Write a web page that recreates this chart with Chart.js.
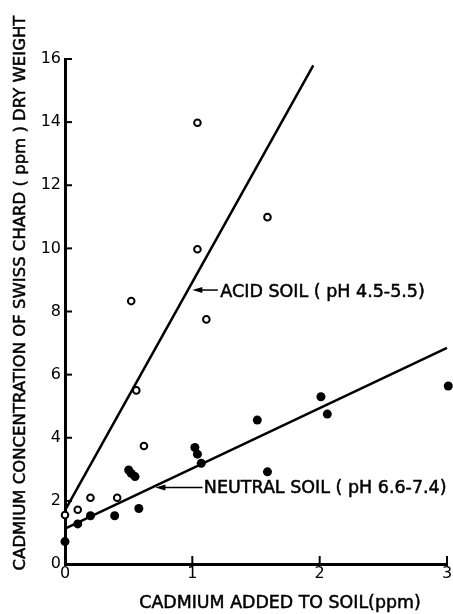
<!DOCTYPE html>
<html>
<head>
<meta charset="utf-8">
<script src="https://cdn.jsdelivr.net/npm/chart.js@4.4.1/dist/chart.umd.min.js"></script>
<style>
    html, body { margin: 0; padding: 0; background: #fff; }
    #wrap { width: 453px; height: 614px; }
</style>
</head>
<body>
<div id="wrap"><canvas id="cdChart" width="453" height="614"></canvas></div>
<script>
// values: Cd added to soil (ppm) vs Cd in chard (ppm)
const acidX = [0, 0.1, 0.2, 0.41, 0.52, 0.56, 0.62, 1.04, 1.04, 1.11, 1.59];
const acidY = [1.55, 1.72, 2.1, 2.1, 8.33, 5.5, 3.74, 13.98, 9.97, 7.75, 10.99];
const neutralX = [0, 0.1, 0.2, 0.39, 0.5, 0.52, 0.55, 0.58, 1.02, 1.04, 1.07, 1.51, 1.59, 2.01, 2.06, 3.01];
const neutralY = [0.71, 1.27, 1.53, 1.53, 2.98, 2.87, 2.77, 1.76, 3.69, 3.48, 3.19, 4.56, 2.92, 5.3, 4.75, 5.64];

// hand fitted lines, end points
const acidFitX = [0, 1.95];
const acidFitY = [1.7, 15.8];
const neutralFitX = [0, 3];
const neutralFitY = [1.12, 6.85];

const xTicks = [0, 1, 2, 3];
const yTicks = [0, 2, 4, 6, 8, 10, 12, 14, 16];

const labelAcid = "ACID SOIL ( pH 4.5-5.5)";
const labelNeutral = "NEUTRAL SOIL ( pH 6.6-7.4)";
const titleX = "CADMIUM ADDED TO SOIL(ppm)";
const titleY = "CADMIUM CONCENTRATION OF SWISS CHARD ( ppm ) DRY WEIGHT";

const FONT = "'DejaVu Sans', sans-serif";

function pairs(xs, ys) {
    return xs.map((x, i) => ({ x: x, y: ys[i] }));
}

// arrow with a small filled head, pointing left
function leftArrow(ctx, x1, x2, y) {
    ctx.beginPath();
    ctx.moveTo(x2, y);
    ctx.lineTo(x1 + 8, y);
    ctx.stroke();
    ctx.beginPath();
    ctx.moveTo(x1, y);
    ctx.lineTo(x1 + 10, y - 3);
    ctx.lineTo(x1 + 10, y + 3);
    ctx.closePath();
    ctx.fill();
}

// text a bit heavier than the book weight, like the old lettering
function heavyText(ctx, text, x, y) {
    ctx.fillText(text, x, y);
    ctx.strokeText(text, x, y);
}

const extras = {
    id: "extras",
    afterDatasetsDraw(chart) {
        const ctx = chart.ctx;
        const xs = chart.scales.x;
        const ys = chart.scales.y;
        const left = chart.chartArea.left;
        const bottom = chart.chartArea.bottom;
        ctx.save();
        ctx.strokeStyle = "#000";
        ctx.fillStyle = "#000";

        // short ticks pointing into the plot
        ctx.lineWidth = 2;
        yTicks.slice(1).forEach(v => {
            const py = ys.getPixelForValue(v);
            ctx.beginPath();
            ctx.moveTo(left, py);
            ctx.lineTo(left + 7, py);
            ctx.stroke();
        });
        xTicks.slice(1).forEach(v => {
            const px = xs.getPixelForValue(v);
            ctx.beginPath();
            ctx.moveTo(px, bottom);
            ctx.lineTo(px, bottom - 8);
            ctx.stroke();
        });

        // arrows + labels for the two lines
        ctx.lineWidth = 1.5;
        const ya = ys.getPixelForValue(8.68);
        leftArrow(ctx, xs.getPixelForValue(1.0), xs.getPixelForValue(1.2), ya);
        const yn = ys.getPixelForValue(2.42);
        leftArrow(ctx, xs.getPixelForValue(0.71), xs.getPixelForValue(1.08), yn);

        ctx.lineWidth = 0.5;
        ctx.font = "17.5px " + FONT;
        ctx.textAlign = "left";
        ctx.textBaseline = "middle";
        heavyText(ctx, labelAcid, xs.getPixelForValue(1.22), ya + 2);
        heavyText(ctx, labelNeutral, xs.getPixelForValue(1.09), yn + 1);

        // axis titles
        ctx.font = "17.4px " + FONT;
        ctx.textAlign = "center";
        heavyText(ctx, titleX, 280, 603);
        ctx.translate(21, 293);
        ctx.rotate(-Math.PI / 2);
        ctx.font = "16.5px " + FONT;
        heavyText(ctx, titleY, 0, 0);
        ctx.restore();
    }
};

window.onload = function() {
    const ctx = document.getElementById("cdChart").getContext("2d");

    new Chart(ctx, {
        type: "scatter",
        data: {
            datasets: [
                {
                    label: "acid",
                    data: pairs(acidX, acidY),
                    pointRadius: 3.3,
                    pointBackgroundColor: "#fff",
                    pointBorderColor: "#000",
                    pointBorderWidth: 2,
                    order: 1
                },
                {
                    label: "neutral",
                    data: pairs(neutralX, neutralY),
                    pointRadius: 4.5,
                    pointBackgroundColor: "#000",
                    pointBorderColor: "#000",
                    pointBorderWidth: 0,
                    order: 2
                },
                {
                    label: "acid fit",
                    data: pairs(acidFitX, acidFitY),
                    showLine: true,
                    pointRadius: 0,
                    borderColor: "#000",
                    borderWidth: 2.5,
                    order: 3
                },
                {
                    label: "neutral fit",
                    data: pairs(neutralFitX, neutralFitY),
                    showLine: true,
                    pointRadius: 0,
                    borderColor: "#000",
                    borderWidth: 2.5,
                    order: 4
                }
            ]
        },
        options: {
            responsive: false,
            animation: false,
            clip: false,
            layout: {
                padding: { top: 59, right: 6, left: 0, bottom: 0 }
            },
            plugins: {
                legend: { display: false },
                tooltip: { enabled: false }
            },
            scales: {
                x: {
                    type: "linear",
                    min: 0,
                    max: 3,
                    afterFit(scale) { scale.height = 50; },
                    afterBuildTicks(scale) {
                        scale.ticks = xTicks.map(v => ({ value: v }));
                    },
                    grid: { drawOnChartArea: false, drawTicks: false },
                    border: { display: true, color: "#000", width: 3 },
                    ticks: {
                        color: "#000",
                        padding: 0,
                        font: { family: FONT, size: 16 }
                    }
                },
                y: {
                    type: "linear",
                    min: 0,
                    max: 16,
                    afterFit(scale) { scale.width = 65; },
                    afterBuildTicks(scale) {
                        scale.ticks = yTicks.map(v => ({ value: v }));
                    },
                    grid: { drawOnChartArea: false, drawTicks: false },
                    border: { display: true, color: "#000", width: 3 },
                    ticks: {
                        color: "#000",
                        padding: 4,
                        font: { family: FONT, size: 16 }
                    }
                }
            }
        },
        plugins: [extras]
    });
};
</script>
</body>
</html>
